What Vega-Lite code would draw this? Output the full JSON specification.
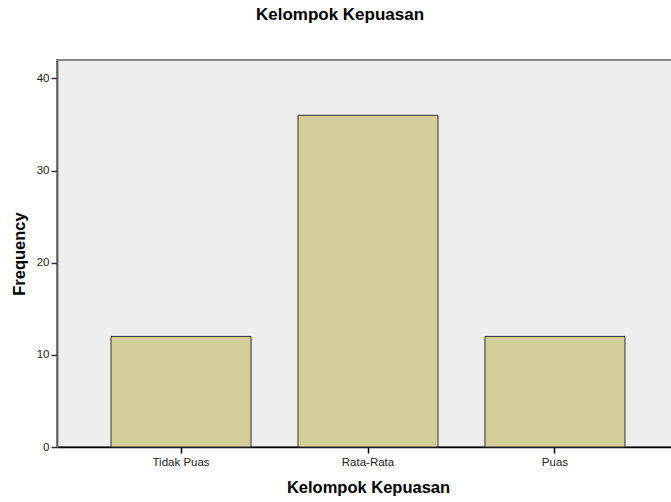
{
  "$schema": "https://vega.github.io/schema/vega-lite/v6.json",
  "autosize": "none",
  "padding": {"left": 57, "top": 60, "right": 0, "bottom": 55},
  "width": 622,
  "height": 387,
  "background": "white",
  "title": {
    "text": "Kelompok Kepuasan",
    "font": "Liberation Sans",
    "fontSize": 17,
    "fontWeight": "bold",
    "color": "#000000",
    "anchor": "middle",
    "frame": "group",
    "dx": -28,
    "offset": 36
  },
  "data": {
    "values": [
      {"kelompok": "Tidak Puas", "frequency": 12},
      {"kelompok": "Rata-Rata", "frequency": 36},
      {"kelompok": "Puas", "frequency": 12}
    ]
  },
  "mark": {"type": "bar", "fill": "#D3CE98", "stroke": "#333333", "strokeWidth": 1},
  "encoding": {
    "x": {
      "field": "kelompok",
      "type": "nominal",
      "sort": null,
      "title": "Kelompok Kepuasan",
      "scale": {"paddingInner": 0.251, "paddingOuter": 0.289},
      "axis": {
        "labelAngle": 0,
        "labelFont": "Liberation Sans",
        "labelFontSize": 11.5,
        "labelColor": "#222222",
        "labelPadding": 3,
        "titleFont": "Liberation Sans",
        "titleFontSize": 16.5,
        "titleFontWeight": "bold",
        "titleColor": "#000000",
        "titlePadding": 12,
        "domainColor": "#000000",
        "domainWidth": 1.5,
        "tickColor": "#000000",
        "tickSize": 6,
        "tickWidth": 1.5
      }
    },
    "y": {
      "field": "frequency",
      "type": "quantitative",
      "title": "Frequency",
      "scale": {"domain": [0, 42], "nice": false},
      "axis": {
        "values": [0, 10, 20, 30, 40],
        "grid": false,
        "labelFont": "Liberation Sans",
        "labelFontSize": 11.5,
        "labelColor": "#222222",
        "labelPadding": 2,
        "titleFont": "Liberation Sans",
        "titleFontSize": 16.5,
        "titleFontWeight": "bold",
        "titleColor": "#000000",
        "titlePadding": 9,
        "domainColor": "#666666",
        "domainWidth": 2,
        "tickColor": "#333333",
        "tickSize": 6,
        "tickWidth": 1.5
      }
    }
  },
  "config": {
    "view": {"fill": "#EEEEEE", "stroke": "#888888", "strokeWidth": 2}
  }
}
